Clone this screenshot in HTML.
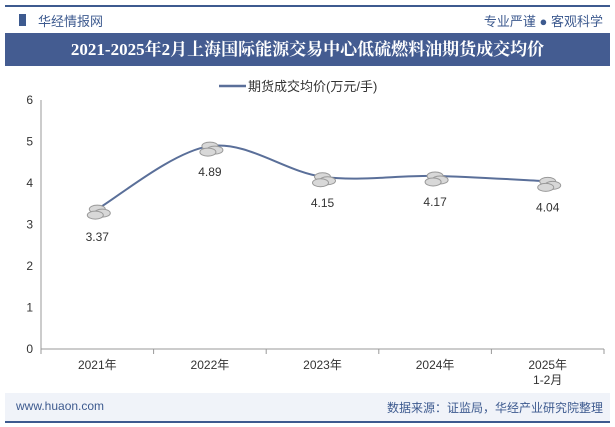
<!DOCTYPE html>
<html><head><meta charset="utf-8"><style>
body{margin:0;width:615px;height:427px;background:#fff;font-family:"Liberation Sans","Noto Sans CJK SC",sans-serif;overflow:hidden;position:relative}
.abs{position:absolute}
</style></head><body>
<div class="abs" style="left:5px;top:5px;width:605px;height:2px;background:#3d5a8f"></div>
<div class="abs" style="left:19px;top:14px;width:0;height:0;border-left:3px solid #3d5a8f;border-right:4px solid #3d5a8f;height:12px"></div>
<div class="abs" style="left:38px;top:11px;font-size:13px;color:#3d5a8f">华经情报网</div>
<div class="abs" style="right:12px;top:11px;font-size:13px;color:#3d5a8f">专业严谨 ● 客观科学</div>
<div class="abs" style="left:5px;top:33px;width:605px;height:33px;background:#445c91;color:#fff;font-weight:bold;font-size:17px;line-height:33px;text-align:center;font-family:'Liberation Serif','Noto Serif CJK SC',serif">2021-2025年2月上海国际能源交易中心低硫燃料油期货成交均价</div>
<svg class="abs" style="left:0;top:0" width="615" height="427">
<g>
<line x1="219" y1="86" x2="246" y2="86" stroke="#5a6f99" stroke-width="2.5"/>
<text x="248" y="91" font-size="13" fill="#333">期货成交均价(万元/手)</text>
</g>
<g id="axes"></g><g id="marks"></g>
</svg>
<div class="abs" style="left:5px;top:393px;width:605px;height:28px;background:#f0f3f9"></div>
<div class="abs" style="left:5px;top:421px;width:605px;height:2px;background:#3d5a8f"></div>
<div class="abs" style="left:16px;top:399px;font-size:12px;color:#3d5a8f">www.huaon.com</div>
<div class="abs" style="right:12px;top:399px;font-size:12px;color:#3d5a8f">数据来源：证监局，华经产业研究院整理</div>
<script>
const categories=["2021年","2022年","2023年","2024年","2025年\n1-2月"];
const values=[3.37,4.89,4.15,4.17,4.04];
const yTicks=[0,1,2,3,4,5,6];
const NS="http://www.w3.org/2000/svg";
const x0=41,x1=604,yBase=349,yTop=100,yMax=6;
const step=(x1-x0)/categories.length;
const xs=i=>x0+step*(i+0.5);
const ys=v=>yBase-(v/yMax)*(yBase-yTop);
function mk(t,a,p){const e=document.createElementNS(NS,t);for(const k in a)e.setAttribute(k,a[k]);p.appendChild(e);return e;}
const ax=document.getElementById('axes'),mg=document.getElementById('marks');
const xl=mk('line',{x1:x0,y1:yBase,x2:x1,y2:yBase,stroke:'#999'},ax);


const yl=mk('line',{x1:x0,y1:yTop,x2:x0,y2:yBase,stroke:'#999'},ax);


yTicks.forEach(v=>{const t=mk('text',{x:x0-8,y:ys(v)+4,'font-size':12,fill:'#333','text-anchor':'end'},ax);t.textContent=v;

});
for(let i=0;i<=categories.length;i++){mk('line',{x1:x0+step*i,y1:yBase,x2:x0+step*i,y2:yBase+5,stroke:'#999'},ax);}
categories.forEach((c,i)=>{c.split('\n').forEach((ln,j)=>{const t=mk('text',{x:xs(i),y:yBase+20+j*15,'font-size':12,fill:'#333','text-anchor':'middle'},ax);t.textContent=ln;

});});
const pts=values.map((v,i)=>[xs(i),ys(v)]);
let d=`M${pts[0][0]},${pts[0][1]}`;
for(let i=0;i<pts.length-1;i++){const [ax1,ay1]=pts[i],[bx,by]=pts[i+1];const p0=pts[i-1]||pts[i],p3=pts[i+2]||pts[i+1];
const c1x=ax1+(bx-p0[0])/6,c1y=ay1+(by-p0[1])/6,c2x=bx-(p3[0]-ax1)/6,c2y=by-(p3[1]-ay1)/6;d+=` C${c1x},${c1y} ${c2x},${c2y} ${bx},${by}`;}
const path=mk('path',{d:d,fill:'none',stroke:'#5a6f99','stroke-width':2},mg);


pts.forEach((p,i)=>{const g=mk('g',{},mg);


[[0,0],[5,4],[-2,6]].forEach(o=>{mk('ellipse',{cx:p[0]+o[0],cy:p[1]+o[1],rx:8,ry:4,fill:'#d8d8d8',stroke:'#999','stroke-width':1},g);});
const t=mk('text',{x:p[0],y:(i==0?p[1]+32:p[1]+30),'font-size':12,fill:'#333','text-anchor':'middle'},mg);t.textContent=values[i].toFixed(2);

});
</script>
</body></html>
